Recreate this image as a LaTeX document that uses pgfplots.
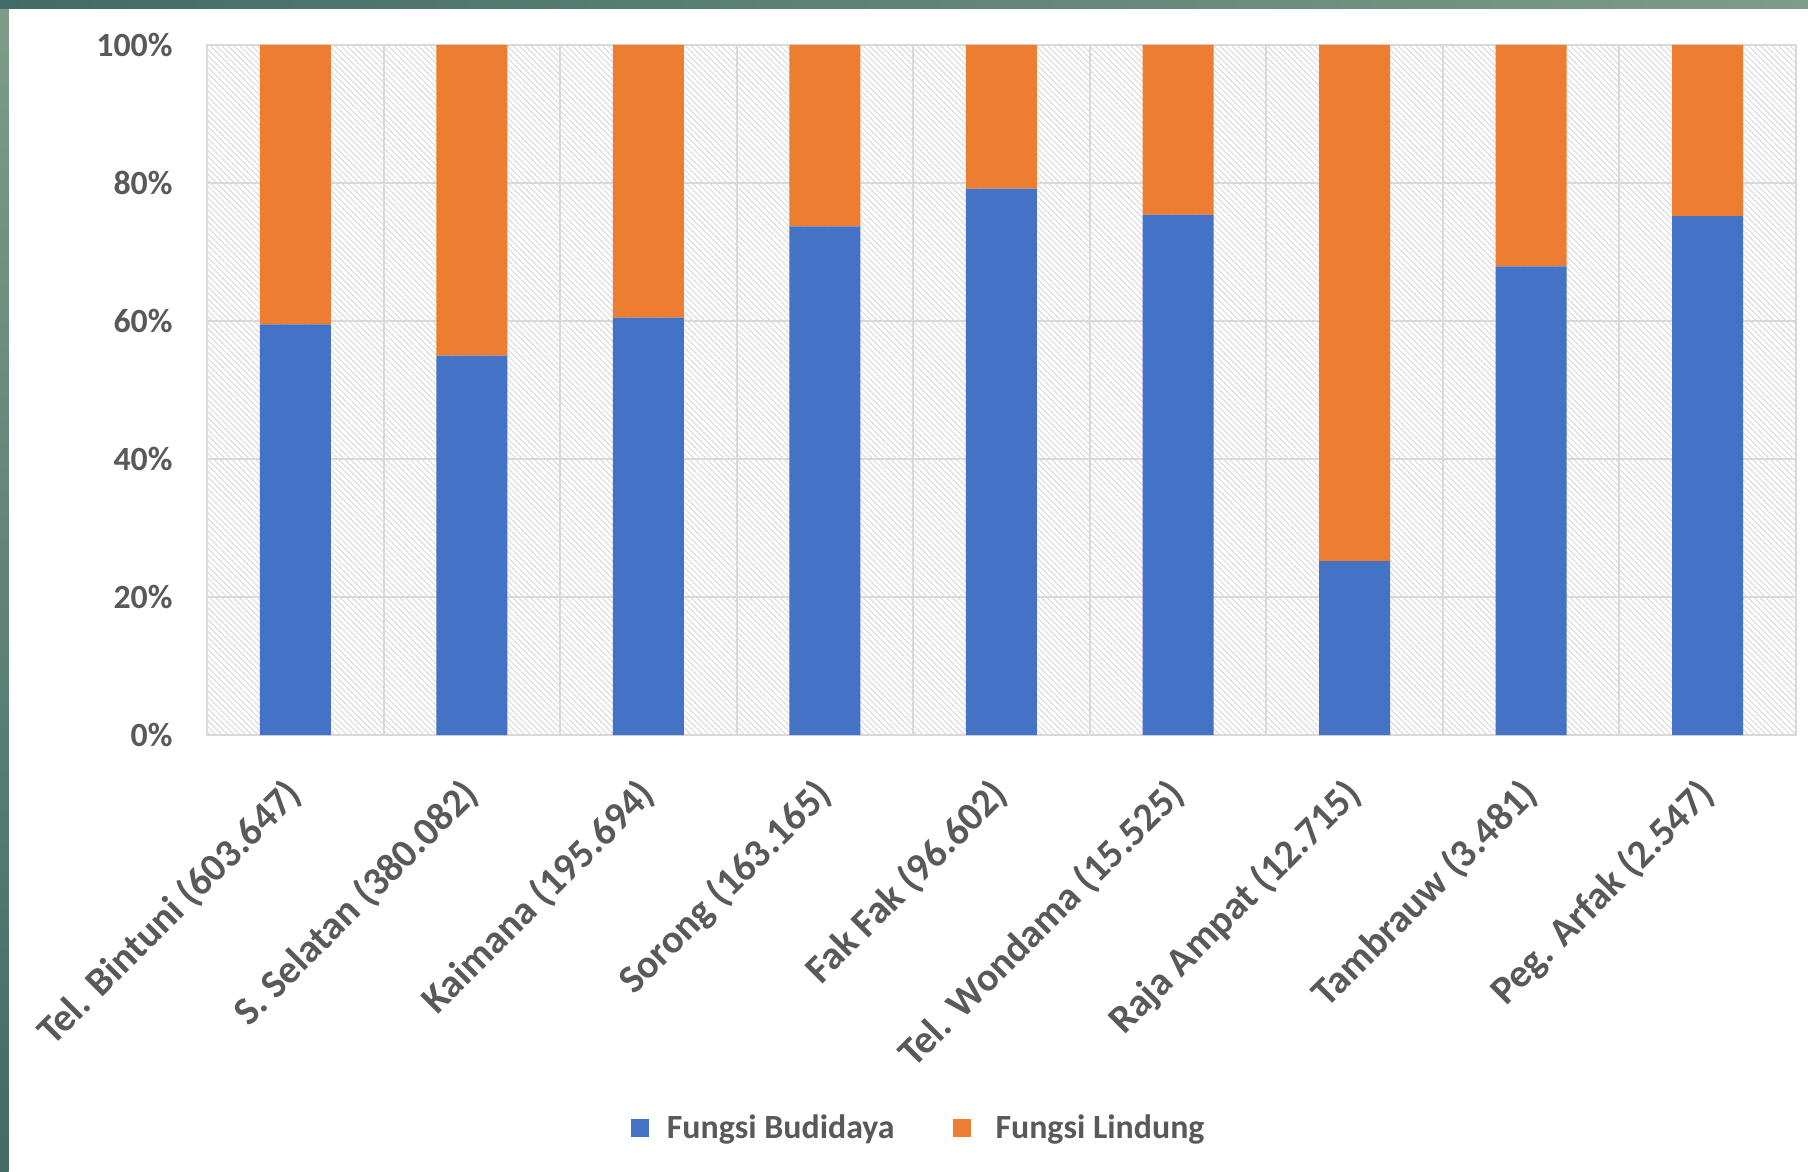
\documentclass[border=0pt]{standalone}
\usepackage{fontspec}
\setmainfont{Carlito}
\usepackage{pgfplots}
\pgfplotsset{compat=1.18}
\usetikzlibrary{patterns.meta}

\definecolor{budidaya}{HTML}{4472C4}
\definecolor{lindung}{HTML}{ED7D31}
\definecolor{txt}{HTML}{595959}
\definecolor{gridc}{HTML}{D9D9D9}
\definecolor{leafA}{HTML}{7E9C88}
\definecolor{leafB}{HTML}{426B66}

% share of each function per regency (percent)
\pgfplotstableread{
idx budidaya lindung
0 59.5 40.5
1 55.0 45.0
2 60.5 39.5
3 73.7 26.3
4 79.2 20.8
5 75.4 24.6
6 25.2 74.8
7 67.9 32.1
8 75.2 24.8
}\shares

\begin{document}
\begin{tikzpicture}
% page: white card with a strip of the photo at the left and top
\fill[white] (-103.5bp,-218.5bp) rectangle (800.5bp,367.5bp);
\shade[top color=leafA, bottom color=leafB] (-103.5bp,-218.5bp) rectangle (-99.2bp,367.5bp);
\shade[left color=leafB, right color=leafA] (-103.5bp,363bp) rectangle (800.5bp,367.5bp);
\begin{axis}[
  at={(0,0)}, anchor=south west,
  scale only axis, width=794.5bp, height=345bp,
  xmin=-0.5, xmax=8.5, ymin=0, ymax=100,
  ybar stacked, bar width=35.5bp,
  xtick={0,...,8},
  xticklabels={Tel. Bintuni (603.647), S. Selatan (380.082), Kaimana (195.694),
    Sorong (163.165), Fak Fak (96.602), Tel. Wondama (15.525),
    Raja Ampat (12.715), Tambrauw (3.481), Peg. Arfak (2.547)},
  minor xtick={0.5,1.5,...,7.5},
  ytick={0,20,...,100},
  yticklabels={0\%,20\%,40\%,60\%,80\%,100\%},
  ymajorgrids, xminorgrids,
  major tick length=0pt, minor tick length=0pt,
  grid style={gridc, line width=1bp},
  minor grid style={gridc, line width=1bp},
  axis line style={gridc, line width=1bp},
  axis background/.style={pattern={Lines[angle=-45,distance=2.1bp,line width=0.6bp]}, pattern color=black!13},
  yticklabel style={font=\bfseries\fontsize{17}{17}\selectfont, text=txt, anchor=east, inner sep=0pt, xshift=-17bp},
  xticklabel style={font=\bfseries\fontsize{20}{20}\selectfont, text=txt, rotate=45, anchor=north east, inner sep=0pt, xshift=-18.7bp, yshift=-9.7bp},
  legend columns=2,
  legend style={at={(0.4485,-0.569)}, anchor=center, draw=none, fill=none,
    font=\bfseries\fontsize{17}{17}\selectfont, text=txt,
    /tikz/every odd column/.append style={column sep=7bp},
    /tikz/every even column/.append style={column sep=27bp}},
]
\addplot[fill=budidaya, draw=none,
  legend image code/.code={\fill[budidaya] (0bp,-4.5bp) rectangle (9bp,4.5bp);}]
  table[x=idx, y=budidaya] {\shares};
\addlegendentry{Fungsi Budidaya}
\addplot[fill=lindung, draw=none,
  legend image code/.code={\fill[lindung] (0bp,-4.5bp) rectangle (9bp,4.5bp);}]
  table[x=idx, y=lindung] {\shares};
\addlegendentry{\hspace{3.5bp}Fungsi Lindung}
\end{axis}
\pgfresetboundingbox
\path[use as bounding box] (-103.5bp,-218.5bp) rectangle (800.5bp,367.5bp);
\end{tikzpicture}
\end{document}
